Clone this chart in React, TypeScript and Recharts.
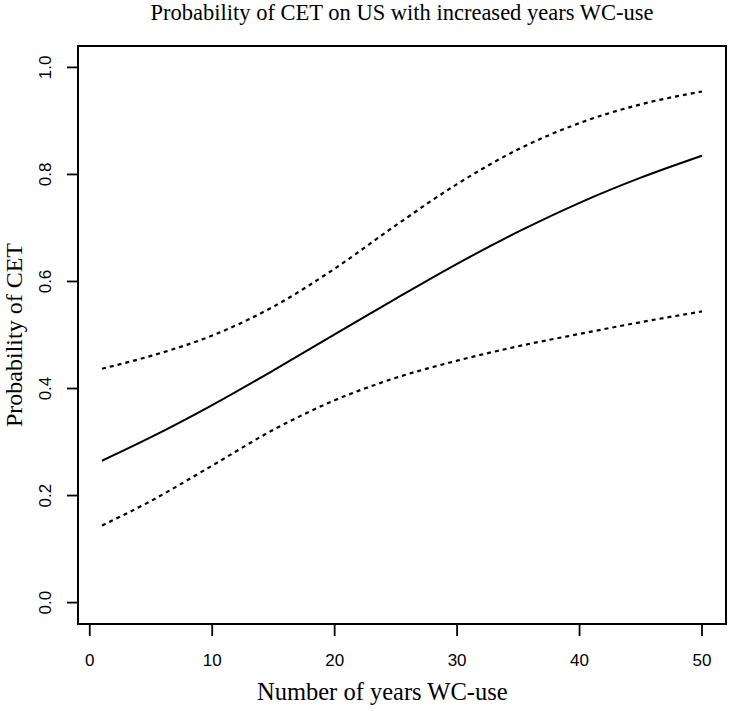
import React from "react";
import { LineChart, Line, XAxis, YAxis, ReferenceArea } from "recharts";

const years = [1, 5, 10, 15, 20, 25, 30, 35, 40, 45, 50];
const fitValues = [0.265, 0.309, 0.369, 0.434, 0.501, 0.568, 0.633, 0.693, 0.747, 0.794, 0.835];
const upperValues = [0.437, 0.461, 0.499, 0.553, 0.624, 0.705, 0.782, 0.847, 0.896, 0.931, 0.955];
const lowerValues = [0.144, 0.19, 0.256, 0.323, 0.378, 0.42, 0.452, 0.479, 0.502, 0.524, 0.544];

const xTicks = [0, 10, 20, 30, 40, 50];
const yTicks = [0, 0.2, 0.4, 0.6, 0.8, 1.0];

const titleText = "Probability of CET on US with increased years WC-use";
const xLabelText = "Number of years WC-use";
const yLabelText = "Probability of CET";

const data = years.map((x, i) => ({
  x,
  fit: fitValues[i],
  upper: upperValues[i],
  lower: lowerValues[i],
}));

const W = 750;
const H = 711;
const LEFT = 78;
const RIGHT = 726;
const TOP = 46;
const BOTTOM = 624;

const sans = "'Liberation Sans', Arial, Helvetica, sans-serif";
const serif = "'Liberation Serif', 'Times New Roman', serif";

const XTick = (props: any) => {
  const { x, payload } = props;
  return (
    <text x={x} y={666} textAnchor="middle" fontFamily={sans} fontSize={17} fill="#000">
      {String(payload.value)}
    </text>
  );
};

const YTick = (props: any) => {
  const { y, payload } = props;
  const bx = 51;
  return (
    <text
      x={bx}
      y={y}
      transform={`rotate(-90, ${bx}, ${y})`}
      textAnchor="middle"
      fontFamily={sans}
      fontSize={17}
      fill="#000"
    >
      {Number(payload.value).toFixed(1)}
    </text>
  );
};

export default function App() {
  return (
    <div style={{ position: "absolute", left: 0, top: 0, width: W, height: H, background: "#fff" }}>
      <LineChart
        width={W}
        height={H}
        data={data}
        margin={{ top: TOP, right: W - RIGHT, bottom: 47, left: LEFT - 40 }}
      >
        <XAxis
          dataKey="x"
          type="number"
          domain={[-0.96, 51.96]}
          ticks={xTicks}
          allowDataOverflow
          axisLine={false}
          tickLine={{ stroke: "#000", strokeWidth: 1.8 }}
          tickSize={12}
          height={40}
          tick={<XTick />}
          interval={0}
        />
        <YAxis
          type="number"
          domain={[-0.04, 1.04]}
          ticks={yTicks}
          allowDataOverflow
          axisLine={false}
          tickLine={{ stroke: "#000", strokeWidth: 1.8 }}
          tickSize={11}
          width={40}
          tick={<YTick />}
          interval={0}
        />
        <ReferenceArea
          x1={-0.96}
          x2={51.96}
          y1={-0.04}
          y2={1.04}
          fill="none"
          fillOpacity={0}
          stroke="#000"
          strokeWidth={2}
          ifOverflow="visible"
        />
        <Line
          dataKey="upper"
          type="monotone"
          stroke="#000"
          strokeWidth={2.2}
          strokeDasharray="4 4"
          dot={false}
          isAnimationActive={false}
        />
        <Line
          dataKey="fit"
          type="monotone"
          stroke="#000"
          strokeWidth={2}
          dot={false}
          isAnimationActive={false}
        />
        <Line
          dataKey="lower"
          type="monotone"
          stroke="#000"
          strokeWidth={2.2}
          strokeDasharray="4 4"
          dot={false}
          isAnimationActive={false}
        />
      </LineChart>
      <svg
        width={W}
        height={H}
        style={{ position: "absolute", left: 0, top: 0, pointerEvents: "none" }}
      >
        <text x={(LEFT + RIGHT) / 2} y={20} textAnchor="middle" fontFamily={serif} fontSize={22.5} fill="#000">
          {titleText}
        </text>
        <text x={257} y={700} textAnchor="start" fontFamily={serif} fontSize={24.5} fill="#000">
          {xLabelText}
        </text>
        <text
          x={22}
          y={(TOP + BOTTOM) / 2}
          transform={`rotate(-90, 22, ${(TOP + BOTTOM) / 2})`}
          textAnchor="middle"
          fontFamily={serif}
          fontSize={24}
          fill="#000"
        >
          {yLabelText}
        </text>
      </svg>
    </div>
  );
}
